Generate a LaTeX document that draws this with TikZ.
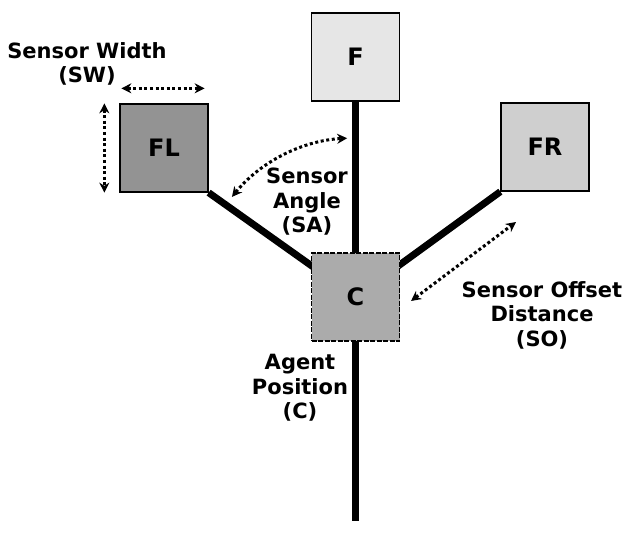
\documentclass[tikz,border=0pt]{standalone}
\usepackage{fontspec}
\setmainfont{DejaVu Sans}
\usetikzlibrary{arrows.meta,backgrounds}

\definecolor{fcol}{HTML}{E6E6E6}
\definecolor{flcol}{HTML}{939393}
\definecolor{frcol}{HTML}{CFCFCF}
\definecolor{ccol}{HTML}{ABABAB}

\begin{document}
\begin{tikzpicture}[x=1pt, y=1pt, font=\bfseries\fontsize{21}{24.5}\selectfont]

  \tikzset{
    sensorbox/.style={draw, line width=1.3pt, minimum size=88pt, inner sep=0pt,
      font=\bfseries\fontsize{24}{28}\selectfont},
    armline/.style={line width=7pt},
    dimarrow/.style={line width=3pt, dash pattern=on 3pt off 2.6pt,
      {Stealth[length=10pt,width=10pt]}-{Stealth[length=10pt,width=10pt]}},
    caption/.style={align=center}
  }

  \useasboundingbox (0,0) rectangle (636,-532);

	%sensors
    \foreach \x/\y/\lab/\col in {355.5/57/F/fcol, 164/148/FL/flcol, 545/147/FR/frcol}{
           \node[sensorbox, fill=\col] (\lab) at (\x,-\y) {\lab};
    }

	%agent
    \node[sensorbox, fill=ccol, dash pattern=on 5pt off 1.5pt] (C) at (355.5,-297) {C};
    \coordinate (tail) at (355.5,-521);

	%arms
    \begin{scope}[on background layer]
      \draw[armline] (F.south) -- (tail);
      \draw[armline] (FL.south east) -- (C.center);
      \draw[armline] (FR.south west) -- (C.center);
    \end{scope}

	%measures
    \draw[dimarrow] ([shift={(2,15)}]FL.north west) -- ([shift={(-4,15)}]FL.north east);
    \draw[dimarrow] ([xshift=-15]FL.north west) -- ([xshift=-15]FL.south west);
    \draw[dimarrow] ([shift={(141:159)}]C.center) arc[start angle=141, end angle=93, radius=159];
    \coordinate (soa) at (411,-301);
    \coordinate (sob) at (516,-222);
    \draw[dimarrow] (soa) -- (sob);

	%labels
    \node[caption] (swlabel) at (87,-64) {Sensor Width\\(SW)};
    \node[caption] (salabel) at (307,-202) {Sensor\\Angle\\(SA)};
    \node[caption] (solabel) at (542,-315) {Sensor Offset\\Distance\\(SO)};
    \node[caption] (aplabel) at (300,-388) {Agent\\Position\\(C)};

\end{tikzpicture}
\end{document}
